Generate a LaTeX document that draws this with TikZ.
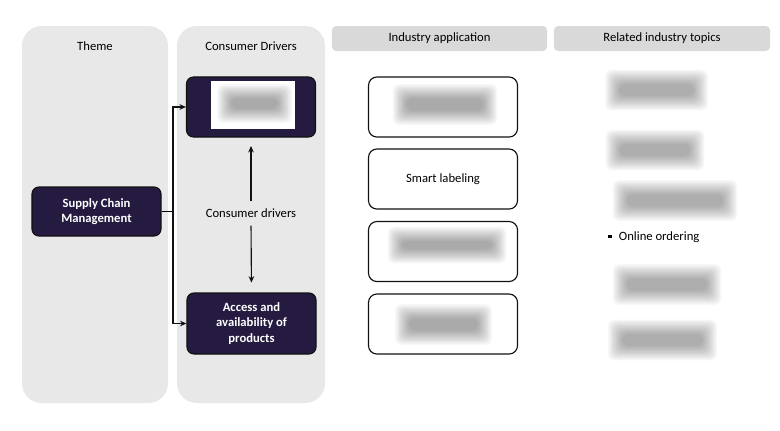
\documentclass[tikz,border=0pt]{standalone}
\usepackage{fontspec}
\setmainfont{Carlito}
\usetikzlibrary{arrows.meta, positioning, calc}
\definecolor{cpanel}{HTML}{E8E8E8}
\definecolor{chead}{HTML}{D9D9D9}
\definecolor{cpurple}{HTML}{251A40}
\definecolor{cline}{HTML}{111111}
\tikzset{
  every picture/.style={font=\fontsize{9}{11}\selectfont, line width=0.8pt},
  panel/.style={fill=cpanel, rounded corners=14pt},
  head/.style={fill=chead, rounded corners=3pt, minimum width=#1, minimum height=0.625cm, inner sep=0pt},
  drvbox/.style={draw=cline, fill=cpurple, text=white, font=\fontsize{9}{11}\selectfont\bfseries, rounded corners=5pt, align=center, minimum width=3.225cm, inner sep=2pt},
  appbox/.style={draw=cline, fill=white, rounded corners=6pt, align=center, minimum width=3.725cm, minimum height=1.5cm},
  arrow/.style={-{Stealth[length=1.6mm, width=1.4mm]}, draw=cline},
  note/.style={align=center},
}
% soft grey bar standing in for blurred text: x, y, width, height (px)
\newcommand\blurbar[4]{%
  \foreach \k in {0,...,11}
    \fill[black, opacity=0.03, rounded corners=4pt]
      (#1-#3/2+8-1.3*\k, #2-#4/2+5-1.3*\k) rectangle (#1+#3/2-8+1.3*\k, #2+#4/2-5+1.3*\k);
}

\begin{document}
\begin{tikzpicture}[x=0.025cm, y=-0.025cm]
  \useasboundingbox (0,0) rectangle (780,430);

  % two grey panels
  \fill[panel] (22,26) rectangle (168,403);
  \fill[panel] (177,26) rectangle (325,403);
  \node[note] (theme) at (95,46) {Theme};
  \node[note] (drivers) at (251,46) {Consumer Drivers};

  % column headers
  \node[head=5.375cm] (apphead) at (439.5,38.5) {Industry application};
  \node[head=5.4cm] (topichead) at (662,38.5) {Related industry topics};

  % theme and drivers
  \node[drvbox, minimum height=1.225cm] (scm) at (96.5,211.5) {Supply Chain\\Management};
  \node[drvbox, minimum height=1.5cm] (drvtop) at (251,107) {};
  \node[fill=white, minimum width=2.1cm, minimum height=1.2cm, inner sep=0pt] (drvinner) at (253,105) {};
  \node[drvbox, minimum height=1.525cm] (access) at (251.5,323.5) {Access and\\availability of\\products};
  \node[note] (drvlabel) at (251,213) {Consumer drivers};

  \coordinate (split) at (173,211.5);
  \draw (scm.east) -- (split);
  \draw[arrow] (split) |- (drvtop.west);
  \draw[arrow] (split) |- (access.west);
  \draw[arrow, shorten <=2pt, shorten >=6pt] (drvlabel.north) -- (drvtop.south);
  \draw[arrow, shorten <=2pt, shorten >=7pt] (drvlabel.south) -- (access.north);

  % industry application boxes
  \foreach \y/\txt [count=\i] in {107/{}, 179/{Smart labeling}, 251.5/{}, 324/{}}
    \node[appbox] (app\i) at (443,\y) {\txt};

  % blurred entries
  \blurbar{254.5}{103.5}{62}{20}
  \blurbar{445}{104.5}{92}{22}
  \blurbar{447}{245}{106}{18}
  \blurbar{443.5}{324.5}{84}{22}
  \blurbar{656.5}{90}{90}{22}
  \blurbar{655}{150}{86}{22}
  \blurbar{675}{200.5}{112}{22}
  \blurbar{667}{284.5}{96}{22}
  \blurbar{662.5}{340}{96}{22}

  % related topic in clear
  \node[note, anchor=west] (online) at (603,237.5)
    {\raisebox{0.4ex}{\rule{2.6pt}{2.6pt}}\hspace{5pt}Online ordering};
\end{tikzpicture}
\end{document}
